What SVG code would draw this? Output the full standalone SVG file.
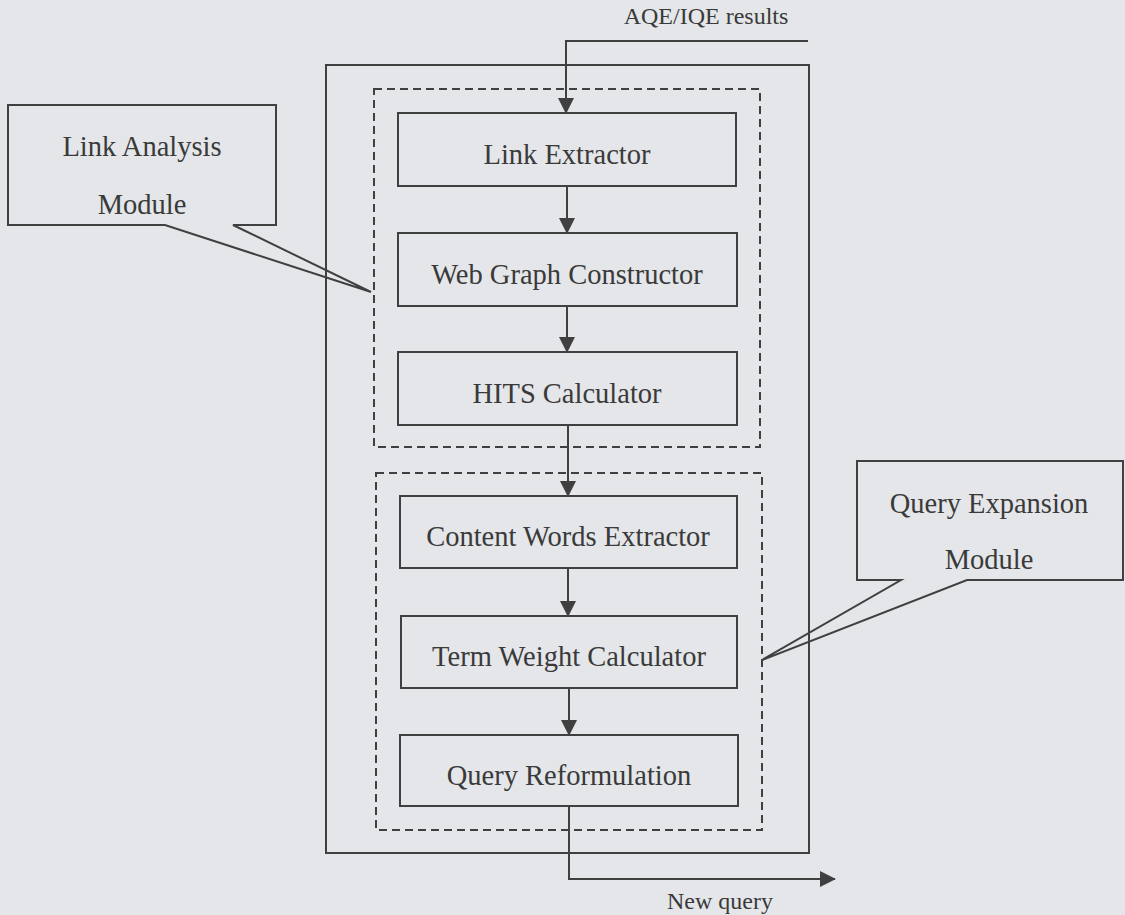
<svg xmlns="http://www.w3.org/2000/svg" width="1125" height="915" viewBox="0 0 1125 915">
<defs>
<style>
.bg{fill:#e4e6e9}
.box{fill:none;stroke:#404040;stroke-width:2}
.dash{fill:none;stroke:#404040;stroke-width:2;stroke-dasharray:8 5}
.line{fill:none;stroke:#404040;stroke-width:2}
.t{font-family:"Liberation Serif","Times New Roman",serif;font-size:28.5px;fill:#3a3a3a;text-anchor:middle}
.s{font-family:"Liberation Serif","Times New Roman",serif;font-size:24px;fill:#3a3a3a;text-anchor:middle}
</style>
<marker id="arr" markerWidth="16" markerHeight="16" viewBox="0 0 16 16" refX="15" refY="8" orient="auto" markerUnits="userSpaceOnUse">
<path d="M0,0 L16,8 L0,16 Z" fill="#404040"/>
</marker>
</defs>
<rect class="bg" x="0" y="0" width="1125" height="915"/>

<g id="outer-frame">
<rect class="box" x="326" y="65" width="483" height="788"/>
</g>
<g id="link-analysis-group">
<rect class="dash" x="374" y="89" width="386" height="358"/>
</g>
<g id="query-expansion-group">
<rect class="dash" x="376" y="473" width="386" height="357"/>
</g>

<g id="link-extractor">
<rect class="box" x="398" y="113" width="338" height="73"/>
<text class="t" x="567" y="164">Link Extractor</text>
</g>
<g id="web-graph-constructor">
<rect class="box" x="398" y="233" width="339" height="73"/>
<text class="t" x="567" y="284">Web Graph Constructor</text>
</g>
<g id="hits-calculator">
<rect class="box" x="398" y="352" width="339" height="73"/>
<text class="t" x="567" y="403">HITS Calculator</text>
</g>
<g id="content-words-extractor">
<rect class="box" x="400" y="496" width="337" height="72"/>
<text class="t" x="568" y="546">Content Words Extractor</text>
</g>
<g id="term-weight-calculator">
<rect class="box" x="401" y="616" width="336" height="72"/>
<text class="t" x="569" y="666">Term Weight Calculator</text>
</g>
<g id="query-reformulation">
<rect class="box" x="400" y="735" width="338" height="71"/>
<text class="t" x="569" y="785">Query Reformulation</text>
</g>

<g id="link-analysis-callout">
<path class="box" d="M8,105 H276 V225 H233 L371,292 L165,225 H8 Z"/>
<text class="t" x="142" y="156">Link Analysis</text>
<text class="t" x="142" y="214">Module</text>
</g>
<g id="query-expansion-callout">
<path class="box" d="M857,461 H1123 V580 H967 L762,660 L901,580 H857 Z"/>
<text class="t" x="989" y="513">Query Expansion</text>
<text class="t" x="989" y="569">Module</text>
</g>

<g id="input-label">
<text class="s" x="706" y="24">AQE/IQE results</text>
</g>
<g id="output-label">
<text class="s" x="720" y="909">New query</text>
</g>

<g id="connectors">
<path class="line" d="M808,41 H566 V113" marker-end="url(#arr)"/>
<path class="line" d="M567,186 V233" marker-end="url(#arr)"/>
<path class="line" d="M567,306 V352" marker-end="url(#arr)"/>
<path class="line" d="M568,425 V496" marker-end="url(#arr)"/>
<path class="line" d="M568,568 V616" marker-end="url(#arr)"/>
<path class="line" d="M569,688 V735" marker-end="url(#arr)"/>
<path class="line" d="M569,806 V879 H835" marker-end="url(#arr)"/>
</g>
</svg>
